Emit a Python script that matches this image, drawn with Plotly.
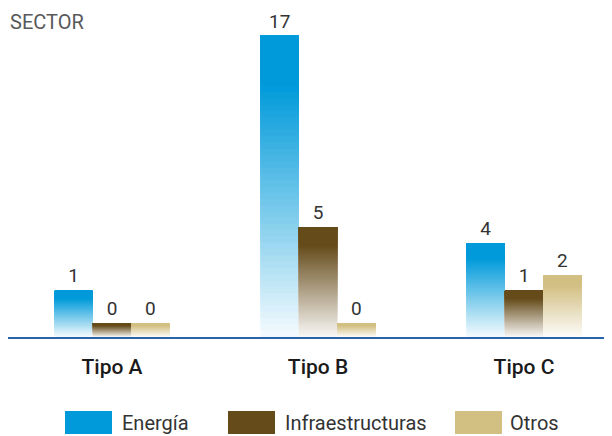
import plotly.graph_objects as go

# ---- data ----
categories = ["Tipo A", "Tipo B", "Tipo C"]
series_names = ["Energía", "Infraestructuras", "Otros"]
energia = [1, 17, 4]
infraestructuras = [0, 5, 1]
otros = [0, 0, 2]
series_colors = ["#009ADA", "#654B1A", "#D2BF82"]
title_text = "SECTOR"

series_values = [energia, infraestructuras, otros]

# ---- display rules (the original draws bars from a baseline below zero,
#      and zero values as a short stub) ----
BASE_OFFSET = 1.89
ZERO_STUB = 0.86
N_STEPS = 48
FONT = "Roboto"

# ---- layout geometry (figure pixels) ----
W, H = 612, 436
PLOT_TOP = 0
PLOT_BOTTOM = 329
PX_PER_UNIT = 15.95
CAT_SPACING = 206
FIRST_CAT_X = 104
PLOT_H = PLOT_BOTTOM - PLOT_TOP


def mix_with_white(hex_color, f):
    h = hex_color.lstrip("#")
    r, g, b = (int(h[i:i + 2], 16) for i in (0, 2, 4))
    r = round(255 + (r - 255) * f)
    g = round(255 + (g - 255) * f)
    b = round(255 + (b - 255) * f)
    return f"rgb({r},{g},{b})"


fig = go.Figure()

for name, vals, col in zip(series_names, series_values, series_colors):
    lengths = [v + BASE_OFFSET if v > 0 else ZERO_STUB for v in vals]
    for k in range(N_STEPS):
        t = (k + 0.5) / N_STEPS
        f = min(1.0, 0.04 + 1.15 * t)
        base = [-BASE_OFFSET + L * k / N_STEPS for L in lengths]
        y = [L * (1 - k / N_STEPS) for L in lengths]
        last = k == N_STEPS - 1
        fig.add_trace(go.Bar(
            x=categories, y=y, base=base, offsetgroup=name,
            marker=dict(color=mix_with_white(col, f), line=dict(width=0)),
            showlegend=False, hoverinfo="skip",
            text=[str(v) for v in vals] if last else None,
            textposition="outside" if last else "none",
            constraintext="none", cliponaxis=False,
            textfont=dict(family=FONT, size=19, color="#333333"),
        ))

ymin = -BASE_OFFSET
ymax = ymin + PLOT_H / PX_PER_UNIT
xmin = -FIRST_CAT_X / CAT_SPACING
xmax = (W - FIRST_CAT_X) / CAT_SPACING


def px_x(x):
    return x / W


def px_y(y):
    return (PLOT_BOTTOM - y) / PLOT_H


# manual legend (wide colour blocks as in the original)
legend_boxes = [(57, 104), (220, 267), (447, 494)]
legend_text_x = [112, 275, 500]
box_top, box_bottom, text_mid = 403, 426, 415

shapes = []
annotations = []
for (x0, x1), tx, name, col in zip(legend_boxes, legend_text_x, series_names, series_colors):
    shapes.append(dict(
        type="rect", xref="paper", yref="paper",
        x0=px_x(x0), x1=px_x(x1), y0=px_y(box_bottom), y1=px_y(box_top),
        fillcolor=col, line=dict(width=0),
    ))
    annotations.append(dict(
        text=name, xref="paper", yref="paper", x=px_x(tx), y=px_y(text_mid),
        xanchor="left", yanchor="middle", showarrow=False,
        font=dict(family=FONT, size=20, color="#333333"),
    ))

annotations.append(dict(
    text=title_text, xref="paper", yref="paper", x=0, y=px_y(0),
    xanchor="left", yanchor="top", showarrow=False,
    font=dict(family=FONT, size=20, color="#58595b"),
))

fig.update_layout(
    width=W, height=H,
    margin=dict(l=0, r=0, t=PLOT_TOP, b=H - PLOT_BOTTOM),
    paper_bgcolor="white", plot_bgcolor="white",
    barmode="group", bargap=0.442, bargroupgap=0,
    font=dict(family=FONT, color="#333333"),
    xaxis=dict(
        range=[xmin, xmax], showline=True, linecolor="#2a63ad", linewidth=2,
        showgrid=False, zeroline=False,
        ticks="outside", ticklen=10, tickcolor="rgba(0,0,0,0)",
        tickfont=dict(family=FONT, size=21, color="#1a1a1a", weight=500),
    ),
    yaxis=dict(range=[ymin, ymax], visible=False, showgrid=False, zeroline=False),
    showlegend=False,
    shapes=shapes,
    annotations=annotations,
)

fig.write_html("out.html")
